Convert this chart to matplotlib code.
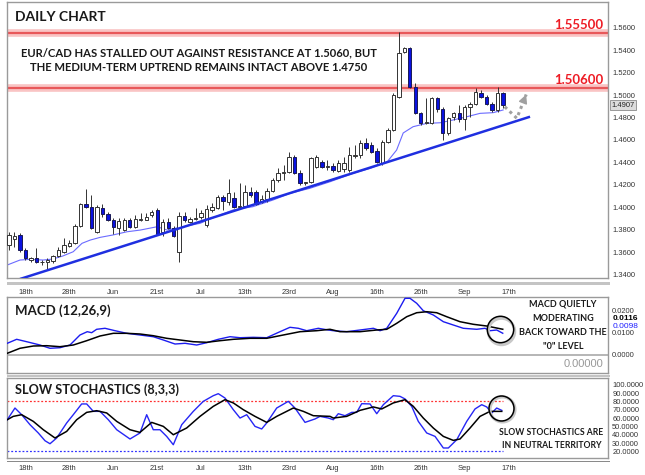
import matplotlib
matplotlib.use("Agg")
import matplotlib.pyplot as plt
from matplotlib.transforms import blended_transform_factory, offset_copy
from matplotlib.patches import Rectangle
import numpy as np

plt.rcParams['font.family'] = ['Lato', 'DejaVu Sans']

# ---------------- data ----------------
opens = [1.3664, 1.3717, 1.3753, 1.3619, 1.3530, 1.3545, 1.3510, 1.3515, 1.3521, 1.3566,
         1.3601, 1.3655, 1.3679, 1.3836, 1.4029, 1.4002, 1.3782, 1.3993, 1.3940, 1.3887,
         1.3813, 1.3797, 1.3887, 1.3822, 1.3891, 1.3891, 1.3931, 1.3976, 1.3782, 1.3871,
         1.3813, 1.3601, 1.3922, 1.3869, 1.3900, 1.3913, 1.3842, 1.3976, 1.3993, 1.4094,
         1.4050, 1.4083, 1.4000, 1.4011, 1.4139, 1.4133, 1.4050, 1.4071, 1.4148, 1.4243,
         1.4307, 1.4312, 1.4451, 1.4303, 1.4214, 1.4228, 1.4356, 1.4406, 1.4356, 1.4368,
         1.4326, 1.4338, 1.4332, 1.4461, 1.4466, 1.4570, 1.4555, 1.4504, 1.4392, 1.4584,
         1.4688, 1.4985, 1.5386, 1.5416, 1.5074, 1.4837, 1.4749, 1.4748, 1.4971, 1.4873,
         1.4664, 1.4802, 1.4837, 1.4784, 1.4896, 1.4920, 1.5015, 1.4980, 1.4920, 1.4867,
         1.5015]
highs = [1.3782, 1.3780, 1.3771, 1.3637, 1.3560, 1.3637, 1.3530, 1.3548, 1.3575, 1.3646,
         1.3723, 1.3708, 1.3851, 1.4038, 1.4163, 1.4109, 1.4020, 1.4029, 1.3958, 1.3904,
         1.3904, 1.3904, 1.3904, 1.3931, 1.3949, 1.3949, 1.3976, 1.3993, 1.3893, 1.3904,
         1.3833, 1.3960, 1.3960, 1.3913, 1.3991, 1.3976, 1.4020, 1.4035, 1.4109, 1.4109,
         1.4249, 1.4139, 1.4214, 1.4198, 1.4183, 1.4154, 1.4109, 1.4169, 1.4261, 1.4347,
         1.4377, 1.4495, 1.4466, 1.4332, 1.4228, 1.4451, 1.4466, 1.4421, 1.4421, 1.4392,
         1.4421, 1.4451, 1.4540, 1.4555, 1.4599, 1.4614, 1.4584, 1.4528, 1.4599, 1.4704,
         1.5018, 1.5565, 1.5428, 1.5428, 1.5105, 1.4849, 1.4971, 1.4985, 1.4985, 1.4893,
         1.4807, 1.4849, 1.4911, 1.4911, 1.4941, 1.5060, 1.5045, 1.5000, 1.4941, 1.5074,
         1.5030]
lows = [1.3619, 1.3649, 1.3601, 1.3530, 1.3515, 1.3503, 1.3485, 1.3450, 1.3503, 1.3557,
        1.3592, 1.3646, 1.3673, 1.3824, 1.3993, 1.3806, 1.3771, 1.3916, 1.3878, 1.3762,
        1.3753, 1.3789, 1.3815, 1.3815, 1.3878, 1.3887, 1.3916, 1.3753, 1.3744, 1.3806,
        1.3732, 1.3515, 1.3871, 1.3860, 1.3887, 1.3895, 1.3827, 1.3960, 1.3985, 1.3976,
        1.4020, 1.3991, 1.3991, 1.4005, 1.4094, 1.4020, 1.4035, 1.4050, 1.4136, 1.4228,
        1.4243, 1.4303, 1.4296, 1.4198, 1.4198, 1.4214, 1.4347, 1.4347, 1.4332, 1.4317,
        1.4314, 1.4317, 1.4317, 1.4436, 1.4436, 1.4510, 1.4481, 1.4392, 1.4377, 1.4570,
        1.4679, 1.4974, 1.5372, 1.5063, 1.4831, 1.4733, 1.4742, 1.4742, 1.4851, 1.4599,
        1.4644, 1.4777, 1.4762, 1.4688, 1.4807, 1.4911, 1.4974, 1.4911, 1.4851, 1.4851,
        1.4882]
closes = [1.3753, 1.3744, 1.3619, 1.3548, 1.3548, 1.3515, 1.3515, 1.3530, 1.3566, 1.3619,
          1.3664, 1.3684, 1.3836, 1.4029, 1.4005, 1.3815, 1.4002, 1.3940, 1.3887, 1.3827,
          1.3880, 1.3887, 1.3822, 1.3895, 1.3900, 1.3916, 1.3960, 1.3762, 1.3871, 1.3813,
          1.3744, 1.3922, 1.3887, 1.3895, 1.3909, 1.3949, 1.3985, 1.4000, 1.4091, 1.4056,
          1.4127, 1.4002, 1.4011, 1.4139, 1.4109, 1.4029, 1.4074, 1.4148, 1.4243, 1.4308,
          1.4316, 1.4451, 1.4303, 1.4214, 1.4228, 1.4439, 1.4451, 1.4356, 1.4368, 1.4332,
          1.4392, 1.4392, 1.4466, 1.4470, 1.4570, 1.4525, 1.4495, 1.4406, 1.4584, 1.4688,
          1.5000, 1.5372, 1.5416, 1.5074, 1.4837, 1.4748, 1.4758, 1.4971, 1.4873, 1.4664,
          1.4793, 1.4837, 1.4784, 1.4896, 1.4920, 1.5030, 1.4980, 1.4920, 1.4867, 1.5015,
          1.4907]

# moving average (read at points along the line)
ma_x = [-0.3, 2.0, 3.8, 6.2, 8.0, 9.8, 11.7, 13.3, 14.8, 16.6, 18.9, 21.5, 23.9, 27.0,
        28.8, 31.1, 34.8, 38.4, 40.8, 44.4, 48.1, 51.2, 54.8, 58.5, 62.7, 65.8, 68.9,
        70.6, 71.8, 73.6, 76.1, 78.5, 80.9, 83.4, 85.8, 88.2, 90.0]
ma_y = [1.3486, 1.3530, 1.3536, 1.3530, 1.3539, 1.3566, 1.3604, 1.3679, 1.3708, 1.3732,
        1.3753, 1.3782, 1.3797, 1.3827, 1.3797, 1.3821, 1.3857, 1.3931, 1.3976, 1.4005,
        1.4065, 1.4124, 1.4169, 1.4228, 1.4303, 1.4347, 1.4406, 1.4510, 1.4662, 1.4718,
        1.4748, 1.4753, 1.4778, 1.4807, 1.4837, 1.4843, 1.4867]

trend_x = [2.0, 94.9]
trend_y = [1.3361, 1.4807]
levels = [1.5550, 1.5060]
level_labels = ['1.55500', '1.50600']
last_price = 1.4907
arrow_x = [90.3, 92.5, 94.2]
arrow_y = [1.4896, 1.4793, 1.5005]

price_ticks = [1.34, 1.36, 1.38, 1.40, 1.42, 1.44, 1.46, 1.48, 1.50, 1.52, 1.54, 1.56]
date_ticks = [3, 11, 19, 27, 35, 43, 51, 59, 67, 75, 83, 91]
date_labels = ['18th', '28th', 'Jun', '21st', 'Jul', '13th', '23rd', 'Aug', '16th', '26th', 'Sep', '17th']

macd_x = [-0.31, 1.40, 3.22, 5.65, 7.47, 9.29, 11.11, 12.93, 14.26, 15.06, 15.97, 17.49,
          19.31, 21.44, 23.86, 26.28, 28.11, 30.24, 32.06, 34.19, 36.01, 38.12, 40.26,
          42.08, 44.50, 46.94, 49.36, 51.18, 52.70, 54.23, 56.34, 58.16, 59.07, 61.51,
          63.93, 66.36, 67.58, 68.80, 70.62, 72.13, 73.04, 74.26, 75.46, 77.29, 79.11,
          80.93, 82.75, 85.19, 86.70, 87.61, 88.83, 89.93]
macd_y = [0.00527, 0.00707, 0.00599, 0.00450, 0.00302, 0.00329, 0.00450, 0.00901, 0.01050,
          0.01005, 0.01158, 0.01203, 0.01095, 0.00977, 0.00901, 0.00824, 0.00676, 0.00495,
          0.00527, 0.00450, 0.00554, 0.00707, 0.00824, 0.00779, 0.00797, 0.00779, 0.01050,
          0.01248, 0.01203, 0.01095, 0.01203, 0.01126, 0.01095, 0.01050, 0.01126, 0.01203,
          0.01095, 0.01203, 0.01878, 0.02554, 0.02554, 0.02329, 0.01995, 0.01802, 0.01500,
          0.01351, 0.01203, 0.01158, 0.01203, 0.01095, 0.01126, 0.00980]
signal_x = [-0.31, 2.00, 4.43, 6.87, 9.29, 11.71, 14.15, 16.58, 19.00, 21.44, 23.86, 26.28,
            28.72, 31.15, 33.57, 36.01, 38.43, 40.86, 43.90, 46.94, 49.96, 53.01, 56.05,
            58.47, 60.29, 63.93, 66.98, 68.80, 70.62, 72.44, 74.26, 76.08, 77.90, 79.72,
            82.15, 84.57, 87.01, 89.93]
signal_y = [0.00077, 0.00302, 0.00405, 0.00419, 0.00374, 0.00450, 0.00644, 0.00856, 0.00977,
            0.00977, 0.00946, 0.00869, 0.00752, 0.00676, 0.00599, 0.00572, 0.00644, 0.00707,
            0.00752, 0.00752, 0.00901, 0.01050, 0.01095, 0.01158, 0.01050, 0.01050, 0.01126,
            0.01158, 0.01428, 0.01725, 0.01905, 0.01950, 0.01905, 0.01725, 0.01500, 0.01383,
            0.01306, 0.01160]
macd_ticks = [0.0, 0.01, 0.02]
macd_labels = ['0.0000', '0.0100', '0.0200']

k_x = [-0.31, 1.09, 2.31, 3.83, 5.34, 6.56, 7.47, 8.69, 10.51, 11.71, 13.24, 14.15, 15.36,
       16.58, 18.09, 19.62, 22.04, 23.86, 25.08, 26.28, 27.50, 28.72, 29.93, 31.46, 33.57,
       35.39, 37.21, 38.12, 39.34, 40.86, 42.08, 43.30, 44.81, 46.03, 46.94, 48.76, 50.87,
       52.09, 53.92, 55.74, 56.65, 58.16, 59.07, 59.98, 61.20, 62.42, 63.33, 64.24,
       65.76, 66.98, 68.18, 70.00, 71.22, 72.13, 73.35, 74.55, 76.08, 77.60, 79.11, 80.02,
       81.55, 83.37, 84.88, 86.10, 87.01, 87.93, 88.83, 89.75]
k_y = [58.0, 72.0, 64.0, 52.0, 42.1, 32.8, 29.2, 36.1, 54.1, 64.0, 76.9, 76.9, 68.0, 68.0,
       58.0, 46.0, 34.9, 42.1, 64.0, 46.0, 46.0, 38.0, 28.0, 52.0, 68.0, 80.0, 86.8, 89.2,
       84.0, 70.0, 60.0, 64.0, 50.0, 46.9, 54.1, 72.0, 80.0, 72.0, 54.8, 58.9, 62.0, 60.0,
       58.0, 65.2, 62.8, 66.8, 66.8, 77.2, 76.9, 65.2, 76.0, 86.8, 86.0, 82.9, 74.0, 56.0,
       42.1, 38.0, 24.1, 24.1, 34.0, 56.0, 70.9, 76.0, 73.3, 66.1, 72.0, 69.2]
d_x = [-0.31, 0.78, 2.31, 4.43, 6.25, 8.38, 10.51, 12.33, 14.15, 15.97, 17.80, 19.62, 22.04,
       23.86, 25.99, 28.11, 29.93, 32.37, 34.79, 37.21, 39.34, 40.86, 42.68, 44.81, 46.94,
       48.76, 51.78, 53.61, 55.43, 58.47, 59.07, 61.51, 63.93, 66.36, 67.89, 70.00, 72.13,
       73.64, 75.46, 77.29, 79.11, 80.93, 82.15, 83.97, 85.79, 87.61, 89.75]
d_y = [58.0, 62.0, 64.0, 56.0, 46.0, 36.1, 44.0, 58.0, 66.8, 68.8, 66.1, 56.0, 46.0, 42.8,
       54.8, 50.0, 40.0, 48.1, 62.0, 74.0, 82.0, 78.1, 70.0, 62.0, 54.8, 62.0, 72.0, 68.0,
       62.8, 62.0, 60.0, 62.0, 69.2, 73.3, 70.9, 78.1, 82.0, 74.0, 60.0, 48.0, 38.0, 33.2,
       34.9, 48.0, 62.0, 68.0, 68.0]
stoch_ticks = [20, 30, 40, 50, 60, 70, 80, 90, 100]

# ---------------- figure ----------------
W, H = 645, 475
fig = plt.figure(figsize=(W / 100, H / 100), dpi=100)
fig.patch.set_facecolor('white')


def box(left, top, right, bottom):
    return [left / W, 1 - bottom / H, (right - left) / W, (bottom - top) / H]


ax = fig.add_axes(box(7, 2, 608, 278))
ax_m = fig.add_axes(box(7, 297, 608, 373))
ax_s = fig.add_axes(box(7, 378, 608, 458))

XL = (-0.36, 109.1)
frame_col = '#9a9a9a'
lab_font = dict(family='Liberation Sans', size=5.4, color='#333333')

for a in (ax, ax_m, ax_s):
    a.set_xlim(*XL)
    for s in a.spines.values():
        s.set_color(frame_col)
        s.set_linewidth(1.0)
    a.tick_params(axis='both', length=0)
    a.yaxis.tick_right()
    a.set_facecolor('white')

# ---- main price panel ----
o = np.array(opens); h = np.array(highs); l = np.array(lows); c = np.array(closes)
idx = np.arange(len(c))
up = c >= o
ax.vlines(idx, l, h, color='#333333', lw=0.7, zorder=3)
bottom = np.minimum(o, c)
height = np.maximum(np.abs(c - o), 0.0004)
ax.bar(idx[up], height[up], bottom=bottom[up], width=0.62, color='white',
       edgecolor='#333333', linewidth=0.7, zorder=4)
ax.bar(idx[~up], height[~up], bottom=bottom[~up], width=0.62, color='#0a12e0',
       edgecolor='#1a1a55', linewidth=0.7, zorder=4)

ax.plot(ma_x, ma_y, color='#6b6bff', lw=0.8, zorder=2)
ax.plot(trend_x, trend_y, color='#1f2fe0', lw=1.8, zorder=5, solid_capstyle='butt')

for lv in levels:
    ax.axhline(lv, color='#f9c4c4', lw=5.5, zorder=1)
    ax.axhline(lv, color='#e8585a', lw=1.6, zorder=1.5)

ax.set_ylim(1.3370, 1.5829)
ax.set_yticks(price_ticks)
ax.set_yticklabels(['%.4f' % v for v in price_ticks], **lab_font)
ax.tick_params(axis='y', pad=3)
ax.set_xticks(date_ticks)
ax.set_xticklabels(date_labels, **lab_font)
ax.tick_params(axis='x', pad=8)

# dotted projection arrow
ax.plot(arrow_x, arrow_y, ls=(0, (1, 1.2)), color='#a0a0a0', lw=2.2, zorder=6)
ax.annotate('', xy=(arrow_x[2], arrow_y[2]),
            xytext=(arrow_x[2] - 0.25 * (arrow_x[2] - arrow_x[1]),
                    arrow_y[2] - 0.25 * (arrow_y[2] - arrow_y[1])),
            arrowprops=dict(arrowstyle='-|>', color='#a0a0a0', lw=1.0,
                            mutation_scale=13, shrinkA=0, shrinkB=0), zorder=6)

# current price box
bt = blended_transform_factory(ax.transAxes, ax.transData)
ax.text(1.005, last_price, '%.4f' % last_price, transform=bt, ha='left', va='center',
        family='Liberation Sans', size=5.4, color='#222222',
        bbox=dict(boxstyle='square,pad=0.2', fc='#dcdcdc', ec='#8a8a8a', lw=0.6))

ax.text(0.0133, 0.944, 'DAILY CHART', transform=ax.transAxes, ha='left', va='center',
        fontsize=10, fontweight='bold', color='#1a1a1a')
ax.text(0.319, 0.789,
        'EUR/CAD HAS STALLED OUT AGAINST RESISTANCE AT 1.5060, BUT\n'
        'THE MEDIUM-TERM UPTREND REMAINS INTACT ABOVE 1.4750',
        transform=ax.transAxes, ha='center', va='center', fontsize=8.1,
        fontweight='bold', color='#1a1a1a', linespacing=1.45)
for lv, txt, yf in zip(levels, level_labels, [0.9167, 0.7174]):
    ax.text(0.9917, yf, txt, transform=ax.transAxes, ha='right', va='center',
            fontsize=9.5, fontweight='bold', color='#ee1c25')

# ---- MACD panel ----
ax_m.axhline(0, color='#b0b0b0', lw=1.3, zorder=1)
ax_m.plot(macd_x, macd_y, color='#1c1cf0', lw=1.0, zorder=3)
ax_m.plot(signal_x, signal_y, color='black', lw=1.1, zorder=4)
ax_m.set_ylim(-0.00811, 0.02613)
ax_m.set_yticks(macd_ticks)
ax_m.set_yticklabels(macd_labels, **lab_font)
ax_m.tick_params(axis='y', pad=3)
ax_m.set_xticks([])
bm = blended_transform_factory(ax_m.transAxes, ax_m.transData)
ax_m.text(1.007, 0.0164, '%.4f' % signal_y[-1], transform=bm, ha='left', va='center',
          family='Liberation Sans', size=6, fontweight='bold', color='black')
ax_m.text(1.007, 0.0128, '%.4f' % macd_y[-1], transform=bm, ha='left', va='center',
          family='Liberation Sans', size=6, color='#2020ff')
ax_m.text(0.992, -0.00405, '0.00000', transform=bm, ha='right', va='center',
          family='Liberation Sans', size=8, color='#999999')
ax_m.text(0.0133, 0.82, 'MACD (12,26,9)', transform=ax_m.transAxes, ha='left', va='center',
          fontsize=9.5, fontweight='bold', color='#1a1a1a')
ax_m.text(0.925, 0.625, 'MACD QUIETLY\nMODERATING\nBACK TOWARD THE\n"0" LEVEL',
          transform=ax_m.transAxes, ha='center', va='center', fontsize=6.5,
          fontweight='bold', color='#1a1a1a', linespacing=1.75)
sh = offset_copy(ax_m.transData, fig=fig, x=1.5, y=-1.5, units='dots')
ax_m.plot([89.4], [0.0117], marker='o', ms=19, mfc='none', mec='#c8c8c8', mew=2.2,
          transform=sh, zorder=5)
ax_m.plot([89.4], [0.0117], marker='o', ms=19, mfc='none', mec='black', mew=1.1, zorder=6)

# ---- Stochastics panel ----
ax_s.hlines(80, XL[0], idx[-1], colors='#ff3030', linestyles=(0, (1.5, 1.5)), lw=0.9)
ax_s.hlines(20, XL[0], idx[-1], colors='#3030ff', linestyles=(0, (1.5, 1.5)), lw=0.9)
ax_s.plot(k_x, k_y, color='#2626f5', lw=1.0, zorder=3)
ax_s.plot(d_x, d_y, color='black', lw=1.1, zorder=4)
ax_s.set_ylim(12.1, 108.0)
ax_s.set_yticks(stoch_ticks)
ax_s.set_yticklabels(['%.4f' % v for v in stoch_ticks], **lab_font)
ax_s.tick_params(axis='y', pad=3)
ax_s.set_xticks(date_ticks)
ax_s.set_xticklabels(date_labels, **lab_font)
ax_s.tick_params(axis='x', pad=5)
ax_s.text(0.0133, 0.86, 'SLOW STOCHASTICS (8,3,3)', transform=ax_s.transAxes,
          ha='left', va='center', fontsize=9.1, fontweight='bold', color='#1a1a1a')
ax_s.text(0.906, 0.24, 'SLOW STOCHASTICS ARE\nIN NEUTRAL TERRITORY',
          transform=ax_s.transAxes, ha='center', va='center', fontsize=6.2,
          fontweight='bold', color='#1a1a1a', linespacing=1.55)
sh2 = offset_copy(ax_s.transData, fig=fig, x=1.5, y=-1.5, units='dots')
ax_s.plot([89.6], [72.1], marker='o', ms=18, mfc='none', mec='#c8c8c8', mew=2.2,
          transform=sh2, zorder=5)
ax_s.plot([89.6], [72.1], marker='o', ms=18, mfc='none', mec='black', mew=1.1, zorder=6)

# separators
for (y0, y1, col) in [(281.5, 284.5, '#c4c4c4'), (374.5, 377.0, '#c4c4c4'),
                      (460.5, 462.0, '#8a8a8a')]:
    fig.add_artist(Rectangle((7 / W, 1 - y1 / H), (610 - 7) / W, (y1 - y0) / H,
                             transform=fig.transFigure, color=col, lw=0))

fig.savefig('out.png', dpi=100, facecolor='white')
